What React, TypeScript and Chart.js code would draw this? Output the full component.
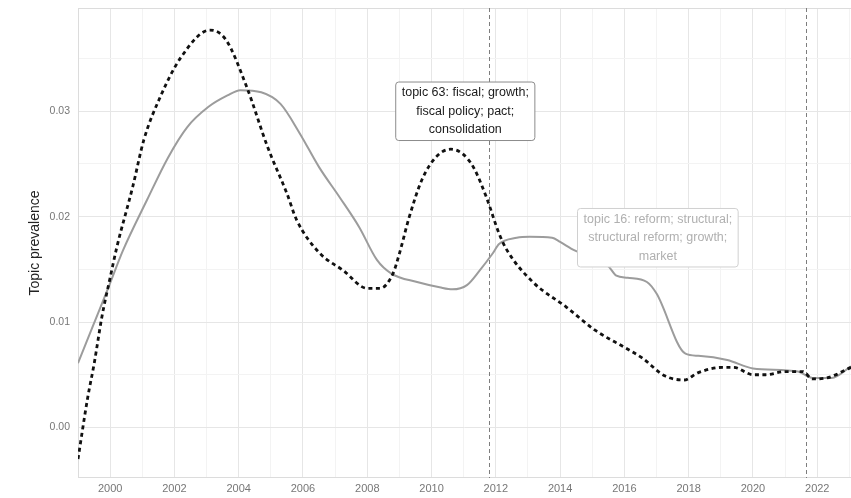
import React, { useEffect, useRef } from "react";
import { Chart, registerables } from "chart.js";

Chart.register(...registerables);

// Topic 16 (reform; structural) prevalence over time
const reformYears = [
  1999.0, 1999.5, 2000.0, 2000.4, 2001.15, 2001.8, 2002.4, 2003.05, 2003.65, 2004.05,
  2004.7, 2005.3, 2005.9, 2006.5, 2007.15, 2007.75, 2008.3, 2008.75, 2009.55, 2010.25,
  2010.65, 2011.1, 2011.5, 2011.9, 2012.1, 2012.65, 2013.05, 2013.75, 2014.0, 2014.45,
  2015.0, 2015.5, 2015.75, 2016.1, 2016.7, 2017.0, 2017.9, 2018.3, 2019.2, 2020.0,
  2021.4, 2021.85, 2022.45, 2023.05,
];
const reformValues = [
  0.0061, 0.0099, 0.0137, 0.0168, 0.0216, 0.0256, 0.0285, 0.0304, 0.0315, 0.032,
  0.0318, 0.0307, 0.0279, 0.0247, 0.0218, 0.019, 0.0159, 0.0146, 0.0138, 0.0133,
  0.0131, 0.0135, 0.0149, 0.0165, 0.0174, 0.018, 0.0181, 0.018, 0.0176, 0.0168,
  0.0161, 0.0153, 0.0144, 0.0142, 0.0138, 0.0127, 0.007, 0.0068, 0.0064, 0.0056,
  0.0053, 0.0047, 0.0047, 0.0058,
];

// Topic 63 (fiscal; growth) prevalence over time
const fiscalYears = [
  1999.0, 1999.3, 1999.5, 1999.75, 2000.0, 2000.2, 2000.7, 2001.05, 2001.55, 2002.2,
  2003.1, 2003.6, 2004.25, 2004.9, 2005.5, 2005.8, 2006.5, 2007.25, 2008.0, 2008.4,
  2008.8, 2009.0, 2009.3, 2009.7, 2010.15, 2010.6, 2010.95, 2011.3, 2011.7, 2012.1,
  2012.35, 2013.15, 2014.2, 2015.1, 2016.0, 2016.55, 2017.25, 2017.85, 2018.3, 2019.05,
  2019.4, 2020.0, 2020.4, 2021.0, 2021.55, 2021.85, 2022.3, 2023.05,
];
const fiscalValues = [
  -0.003, 0.0028, 0.006, 0.0106, 0.0142, 0.017, 0.0228, 0.0273, 0.0313, 0.0351,
  0.0377, 0.0368, 0.0323, 0.0266, 0.0222, 0.0197, 0.0166, 0.0149, 0.0132, 0.0132,
  0.0146, 0.0165, 0.0199, 0.0235, 0.0257, 0.0264, 0.026, 0.0247, 0.0219, 0.0184,
  0.0168, 0.0138, 0.0114, 0.0092, 0.0076, 0.0066, 0.0049, 0.0045, 0.0052, 0.0057,
  0.0057, 0.005, 0.005, 0.0053, 0.0053, 0.0046, 0.0047, 0.0057,
];

// Event markers (vertical dashed lines)
const eventYears = [2011.8, 2021.65];

// Topic labels: text lines, anchor year, anchor value
const fiscalLabel = ["topic 63: fiscal; growth;", "fiscal policy; pact;", "consolidation"];
const fiscalLabelAt = [2011.05, 0.03];
const reformLabel = ["topic 16: reform; structural;", "structural reform; growth;", "market"];
const reformLabelAt = [2017.04, 0.018];

// Axis ticks
const xTickYears = [
  1999, 2000, 2001, 2002, 2003, 2004, 2005, 2006, 2007, 2008, 2009, 2010, 2011, 2012,
  2013, 2014, 2015, 2016, 2017, 2018, 2019, 2020, 2021, 2022, 2023,
];
const yTickValues = [0, 0.005, 0.01, 0.015, 0.02, 0.025, 0.03, 0.035];

const FONT = "'Liberation Sans', Arial, Helvetica, sans-serif";

const toPoints = (xs: number[], ys: number[]) => xs.map((x, i) => ({ x, y: ys[i] }));

function drawLabel(
  ctx: CanvasRenderingContext2D,
  lines: string[],
  cx: number,
  cy: number,
  color: string,
  border: string
) {
  ctx.save();
  ctx.font = `12.5px ${FONT}`;
  const lh = 18.5;
  const padX = 6;
  const w = Math.max(...lines.map((l) => ctx.measureText(l).width)) + padX * 2;
  const h = lh * lines.length + 3;
  const x0 = cx - w / 2;
  const y0 = cy - h / 2;
  const r = 3;
  ctx.beginPath();
  ctx.moveTo(x0 + r, y0);
  ctx.lineTo(x0 + w - r, y0);
  ctx.arcTo(x0 + w, y0, x0 + w, y0 + r, r);
  ctx.lineTo(x0 + w, y0 + h - r);
  ctx.arcTo(x0 + w, y0 + h, x0 + w - r, y0 + h, r);
  ctx.lineTo(x0 + r, y0 + h);
  ctx.arcTo(x0, y0 + h, x0, y0 + h - r, r);
  ctx.lineTo(x0, y0 + r);
  ctx.arcTo(x0, y0, x0 + r, y0, r);
  ctx.closePath();
  ctx.fillStyle = "#ffffff";
  ctx.fill();
  ctx.lineWidth = 1;
  ctx.strokeStyle = border;
  ctx.stroke();
  ctx.fillStyle = color;
  ctx.textAlign = "center";
  ctx.textBaseline = "middle";
  lines.forEach((l, i) => {
    ctx.fillText(l, cx, cy + (i - (lines.length - 1) / 2) * lh);
  });
  ctx.restore();
}

const overlayPlugin = {
  id: "overlay",
  beforeDatasetsDraw(chart: any) {
    const { ctx, chartArea, scales } = chart;
    ctx.save();
    // panel border
    ctx.strokeStyle = "#dcdcdc";
    ctx.lineWidth = 1;
    ctx.strokeRect(
      chartArea.left + 0.5,
      chartArea.top + 0.5,
      chartArea.right - chartArea.left,
      chartArea.bottom - chartArea.top - 1
    );
    // event lines
    ctx.strokeStyle = "#7d7d7d";
    ctx.setLineDash([4, 3]);
    eventYears.forEach((yr) => {
      const x = Math.round(scales.x.getPixelForValue(yr)) + 0.5;
      ctx.beginPath();
      ctx.moveTo(x, chartArea.top);
      ctx.lineTo(x, chartArea.bottom);
      ctx.stroke();
    });
    ctx.restore();
  },
  afterDatasetsDraw(chart: any) {
    const { ctx, scales } = chart;
    drawLabel(
      ctx,
      fiscalLabel,
      scales.x.getPixelForValue(fiscalLabelAt[0]),
      scales.y.getPixelForValue(fiscalLabelAt[1]),
      "#1a1a1a",
      "#8c8c8c"
    );
    drawLabel(
      ctx,
      reformLabel,
      scales.x.getPixelForValue(reformLabelAt[0]),
      scales.y.getPixelForValue(reformLabelAt[1]),
      "#b0b0b0",
      "#d0d0d0"
    );
  },
  afterDraw(chart: any) {
    const { ctx, chartArea } = chart;
    ctx.save();
    ctx.translate(35, (chartArea.top + chartArea.bottom) / 2);
    ctx.rotate(-Math.PI / 2);
    ctx.font = `14px ${FONT}`;
    ctx.fillStyle = "#222222";
    ctx.textAlign = "center";
    ctx.textBaseline = "middle";
    ctx.fillText("Topic prevalence", 0, 0);
    ctx.restore();
  },
};

export default function App() {
  const canvasRef = useRef<HTMLCanvasElement>(null);

  useEffect(() => {
    if (!canvasRef.current) return;
    const chart = new Chart(canvasRef.current, {
      type: "line",
      data: {
        datasets: [
          {
            label: "topic 63",
            data: toPoints(fiscalYears, fiscalValues),
            borderColor: "#111111",
            borderWidth: 2.8,
            borderDash: [4, 3.5],
            pointRadius: 0,
            cubicInterpolationMode: "monotone",
            fill: false,
            order: 1,
          },
          {
            label: "topic 16",
            data: toPoints(reformYears, reformValues),
            borderColor: "#9c9c9c",
            borderWidth: 2,
            pointRadius: 0,
            cubicInterpolationMode: "monotone",
            fill: false,
            order: 2,
          },
        ],
      },
      options: {
        responsive: false,
        animation: false,
        layout: { padding: { top: 8, right: 0, left: 0, bottom: 0 } },
        plugins: {
          legend: { display: false },
          tooltip: { enabled: false },
        },
        scales: {
          x: {
            type: "linear",
            min: 1999.0,
            max: 2023.05,
            afterBuildTicks: (scale: any) => {
              scale.ticks = xTickYears.map((v) => ({ value: v }));
            },
            afterFit: (scale: any) => {
              scale.height = 20;
              scale.paddingLeft = 0;
              scale.paddingRight = 0;
            },
            ticks: {
              autoSkip: false,
              maxRotation: 0,
              padding: 4,
              color: "#777777",
              font: { family: FONT, size: 11 },
              callback: (v: any) => (Math.round(v) % 2 === 0 ? String(Math.round(v)) : ""),
            },
            grid: {
              drawTicks: false,
              color: (c: any) => (Math.round(c.tick.value) % 2 === 0 ? "#e6e6e6" : "#f3f3f3"),
            },
            border: { display: false },
          },
          y: {
            type: "linear",
            min: -0.0048,
            max: 0.0398,
            afterBuildTicks: (scale: any) => {
              scale.ticks = yTickValues.map((v) => ({ value: v }));
            },
            afterFit: (scale: any) => {
              scale.width = 78;
              scale.paddingTop = 0;
              scale.paddingBottom = 0;
            },
            ticks: {
              autoSkip: false,
              padding: 8,
              color: "#777777",
              font: { family: FONT, size: 10.5 },
              callback: (v: any) => {
                const k = Math.round(v * 1000);
                return k % 10 === 0 ? (k / 1000).toFixed(2) : "";
              },
            },
            grid: {
              drawTicks: false,
              color: (c: any) =>
                Math.round(c.tick.value * 1000) % 10 === 0 ? "#e6e6e6" : "#f3f3f3",
            },
            border: { display: false },
          },
        },
      },
      plugins: [overlayPlugin],
    } as any);
    return () => chart.destroy();
  }, []);

  return (
    <div
      style={{ position: "fixed", left: 0, top: 0, width: 851, height: 498, background: "#fff" }}
    >
      <canvas ref={canvasRef} width={851} height={498} />
    </div>
  );
}
